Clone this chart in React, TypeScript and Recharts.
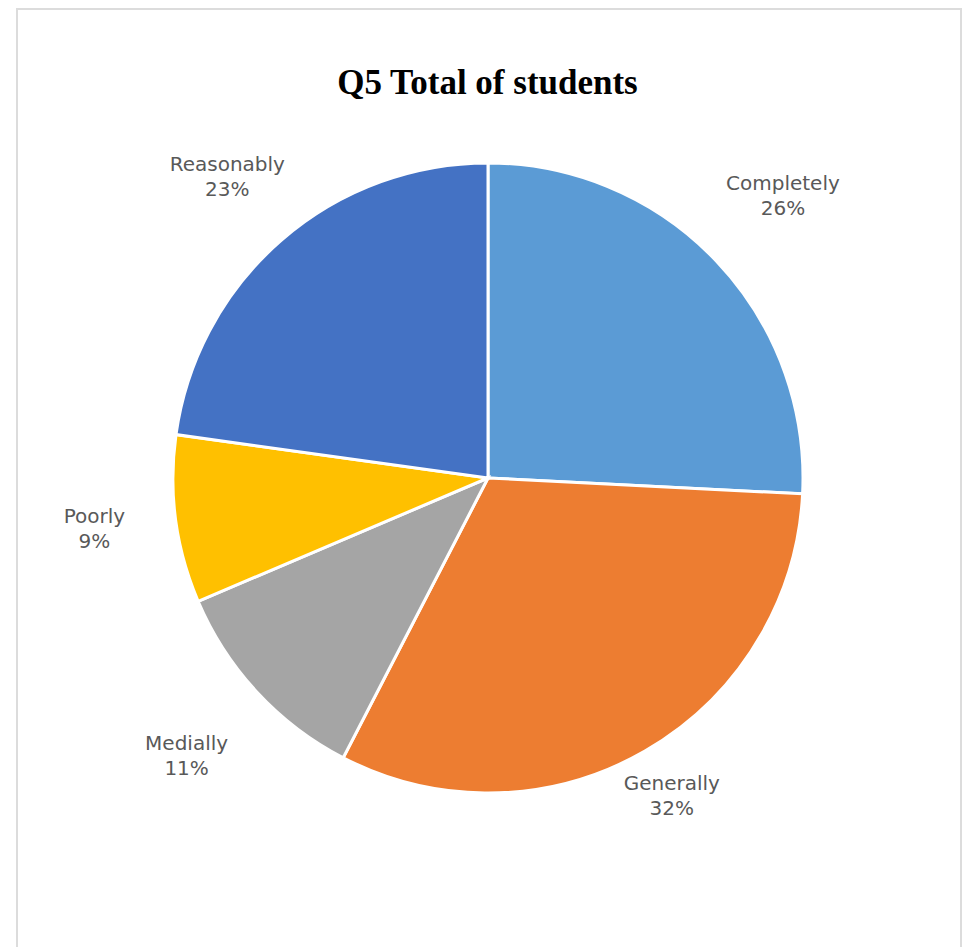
import React from 'react';
import { PieChart, Pie, Cell } from 'recharts';

const categories = ['Completely', 'Generally', 'Medially', 'Poorly', 'Reasonably'];
const shares = [25.8, 31.8, 11.0, 8.6, 22.8];
const colors = ['#5B9BD5', '#ED7D31', '#A5A5A5', '#FFC000', '#4472C4'];

// how far outside the pie each label sits (Excel "best fit" look)
const labelGap = [92, 54, 96, 82, 82];

const data = categories.map((name, i) => ({ name, value: shares[i] }));

const RADIAN = Math.PI / 180;

const renderLabel = (props: any) => {
  const { cx, cy, midAngle, outerRadius, percent, name, index } = props;
  const r = outerRadius + labelGap[index];
  const x = cx + r * Math.cos(-midAngle * RADIAN);
  const y = cy + r * Math.sin(-midAngle * RADIAN) + 5;
  return (
    <text
      x={x}
      y={y}
      textAnchor="middle"
      fill="#595959"
      fontFamily="'DejaVu Sans', sans-serif"
      fontSize={20}
    >
      <tspan x={x} y={y - 12.5}>{name}</tspan>
      <tspan x={x} y={y + 12.5}>{`${Math.round(percent * 100)}%`}</tspan>
    </text>
  );
};

const App: React.FC = () => {
  return (
    <div
      style={{
        position: 'absolute',
        left: 0,
        top: 0,
        width: 968,
        height: 947,
        overflow: 'hidden',
        background: '#fff',
      }}
    >
      <div
        style={{
          position: 'absolute',
          left: 16,
          top: 8,
          width: 942,
          height: 980,
          border: '2px solid #dcdcdc',
        }}
      />
      <div
        style={{
          position: 'absolute',
          left: 0,
          top: 63,
          width: 975,
          textAlign: 'center',
          fontFamily: "'Liberation Serif', 'Times New Roman', serif",
          fontWeight: 'bold',
          fontSize: 35,
          lineHeight: '40px',
          color: '#000',
        }}
      >
        Q5 Total of students
      </div>
      <div style={{ position: 'absolute', left: 0, top: 0 }}>
        <PieChart width={968} height={947} margin={{ top: 0, right: 0, bottom: 0, left: 0 }}>
          <Pie
            data={data}
            dataKey="value"
            nameKey="name"
            cx={488}
            cy={478}
            outerRadius={315}
            startAngle={90}
            endAngle={-270}
            stroke="#fff"
            strokeWidth={3}
            label={renderLabel}
            labelLine={false}
            isAnimationActive={false}
          >
            {data.map((d, i) => (
              <Cell key={d.name} fill={colors[i]} />
            ))}
          </Pie>
        </PieChart>
      </div>
    </div>
  );
};

export default App;
